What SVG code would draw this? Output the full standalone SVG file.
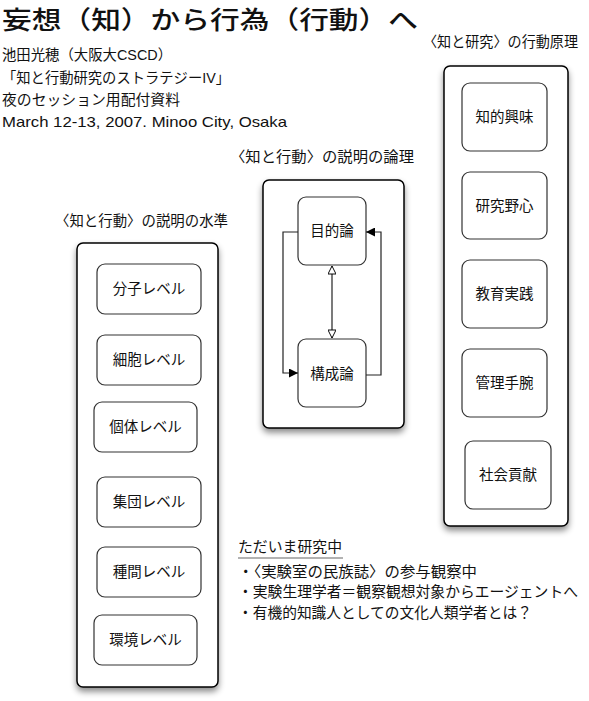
<svg xmlns="http://www.w3.org/2000/svg" width="589" height="701" viewBox="0 0 589 701">
<defs>
<style>
text{font-family:"Liberation Sans","Noto Sans CJK JP",sans-serif;fill:#111;}
.t{font-size:14.5px;}
.n{font-size:15px;}
.c{font-size:14.5px;text-anchor:middle;dominant-baseline:central;}
.box{fill:#fff;stroke:#000;stroke-width:1.5;}
.node{fill:#fff;stroke:#333;stroke-width:1.2;}
.conn{fill:none;stroke:#222;stroke-width:1.2;}
</style>
<filter id="sh" x="-20%" y="-10%" width="140%" height="125%">
<feDropShadow dx="0" dy="4" stdDeviation="3" flood-color="#000" flood-opacity="0.45"/>
</filter>
<marker id="fa" viewBox="0 0 10 10" refX="10" refY="5" markerWidth="12" markerHeight="9" markerUnits="userSpaceOnUse" orient="auto">
<path d="M0,0 L10,5 L0,10 z" fill="#000"/>
</marker>
<marker id="ha" viewBox="0 0 10 10" refX="10" refY="5" markerWidth="10" markerHeight="8" markerUnits="userSpaceOnUse" orient="auto-start-reverse">
<path d="M0,0 L10,5 L0,10 z" fill="#fff" stroke="#000" stroke-width="1.2"/>
</marker>
</defs>
<rect width="589" height="701" fill="#fff"/>

<g id="header">
<text x="2" y="29" style="font-family:'Noto Sans CJK JP',serif;font-size:25px;font-weight:500" textLength="416" lengthAdjust="spacingAndGlyphs">妄想（知）から行為（行動）へ</text>
<text class="t" x="2" y="60" textLength="170" lengthAdjust="spacingAndGlyphs">池田光穂（大阪大CSCD）</text>
<text class="t" x="2" y="83" textLength="228" lengthAdjust="spacingAndGlyphs">「知と行動研究のストラテジーIV」</text>
<text class="t" x="2" y="105" textLength="178" lengthAdjust="spacingAndGlyphs">夜のセッション用配付資料</text>
<text class="t" x="2" y="127" textLength="285" lengthAdjust="spacingAndGlyphs">March 12-13, 2007. Minoo City, Osaka</text>
</g>

<g id="levels">
<text class="t" x="55" y="226" textLength="173" lengthAdjust="spacingAndGlyphs">〈知と行動〉の説明の水準</text>
<rect class="box" x="77" y="243" width="141" height="444" rx="6" filter="url(#sh)"/>
<g id="n-bunshi"><rect class="node" x="97" y="264" width="104" height="50" rx="8"/><text class="c" x="149" y="289">分子レベル</text></g>
<g id="n-saibou"><rect class="node" x="97" y="335" width="104" height="50" rx="8"/><text class="c" x="149" y="360">細胞レベル</text></g>
<g id="n-kotai"><rect class="node" x="94" y="402" width="103" height="50" rx="8"/><text class="c" x="145.5" y="427">個体レベル</text></g>
<g id="n-shuudan"><rect class="node" x="97" y="477" width="104" height="50" rx="8"/><text class="c" x="149" y="502">集団レベル</text></g>
<g id="n-shukan"><rect class="node" x="97" y="547" width="104" height="50" rx="8"/><text class="c" x="149" y="572">種間レベル</text></g>
<g id="n-kankyou"><rect class="node" x="94" y="615" width="103" height="50" rx="8"/><text class="c" x="145.5" y="640">環境レベル</text></g>
</g>

<g id="logic">
<text class="t" x="230" y="162" textLength="184" lengthAdjust="spacingAndGlyphs">〈知と行動〉の説明の論理</text>
<rect class="box" x="263" y="180" width="141" height="248" rx="6" filter="url(#sh)"/>
<g id="n-mokuteki"><rect class="node" x="298" y="197" width="68" height="68" rx="8"/><text class="c" x="332" y="231">目的論</text></g>
<g id="n-kousei"><rect class="node" x="298" y="339" width="68" height="68" rx="8"/><text class="c" x="332" y="374">構成論</text></g>
</g>

<g id="connectors">
<polyline class="conn" points="298,232 283,232 283,373 298,373" marker-end="url(#fa)"/>
<polyline class="conn" points="366,375 381,375 381,232 366,232" marker-end="url(#fa)"/>
<line class="conn" x1="332" y1="266" x2="332" y2="338" marker-start="url(#ha)" marker-end="url(#ha)"/>
</g>

<g id="principles">
<text class="t" x="423" y="47" textLength="155" lengthAdjust="spacingAndGlyphs">〈知と研究〉の行動原理</text>
<rect class="box" x="444" y="66" width="124" height="460" rx="6" filter="url(#sh)"/>
<g id="n-chiteki"><rect class="node" x="462" y="83" width="85" height="68" rx="8"/><text class="c" x="504.5" y="117">知的興味</text></g>
<g id="n-kenkyu"><rect class="node" x="462" y="172" width="85" height="67" rx="8"/><text class="c" x="504.5" y="206">研究野心</text></g>
<g id="n-kyouiku"><rect class="node" x="462" y="260" width="85" height="68" rx="8"/><text class="c" x="504.5" y="294">教育実践</text></g>
<g id="n-kanri"><rect class="node" x="462" y="349" width="85" height="68" rx="8"/><text class="c" x="504.5" y="383">管理手腕</text></g>
<g id="n-shakai"><rect class="node" x="465" y="441" width="86" height="68" rx="8"/><text class="c" x="508" y="475">社会貢献</text></g>
</g>

<g id="notes">
<text class="n" x="238" y="552" textLength="104" lengthAdjust="spacingAndGlyphs">ただいま研究中</text>
<line x1="238" y1="558" x2="343" y2="558" stroke="#999" stroke-width="1.5"/>
<text class="n" x="238" y="577" textLength="239" lengthAdjust="spacingAndGlyphs">・〈実験室の民族誌〉の参与観察中</text>
<text class="n" x="238" y="597" textLength="340" lengthAdjust="spacingAndGlyphs">・実験生理学者＝観察観想対象からエージェントへ</text>
<text class="n" x="238" y="618" textLength="294" lengthAdjust="spacingAndGlyphs">・有機的知識人としての文化人類学者とは？</text>
</g>
</svg>
